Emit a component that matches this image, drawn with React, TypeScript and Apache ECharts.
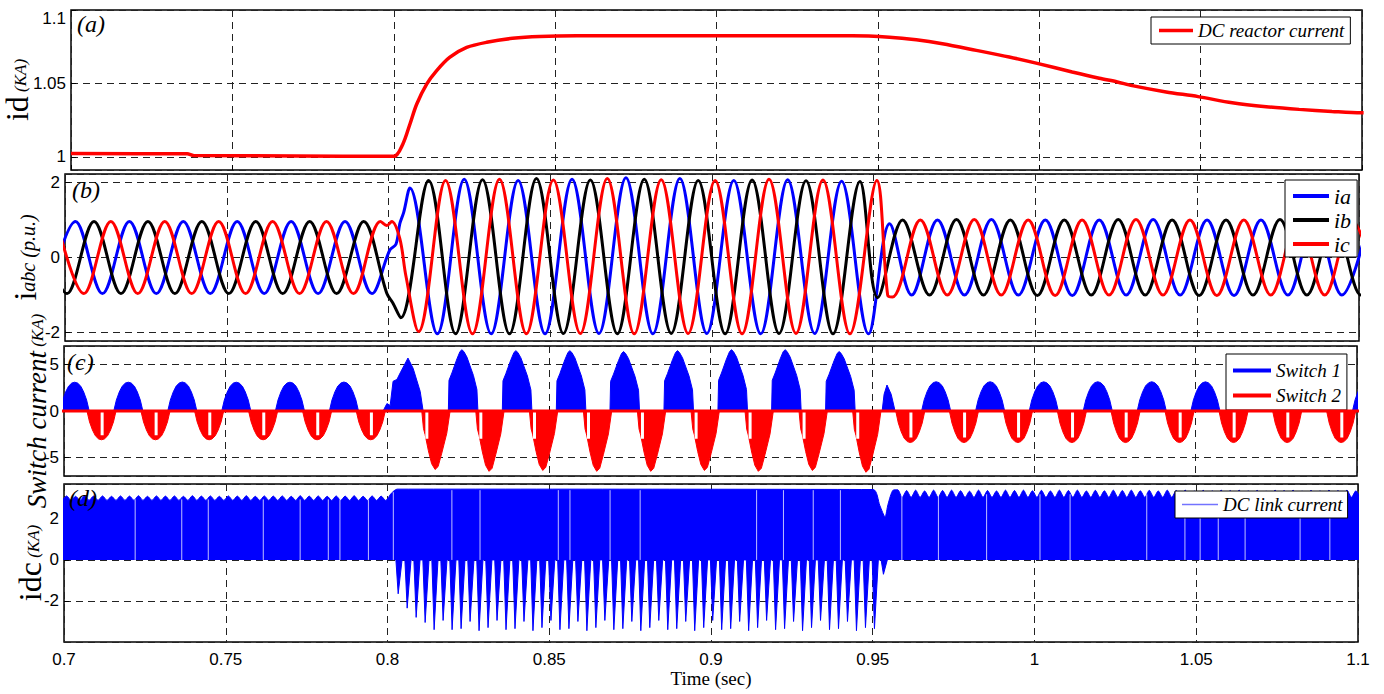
import React, { useEffect, useRef } from "react";
import * as echarts from "echarts";

// ---------------- shared axis values ----------------
const TIME_MIN = 0.7;
const TIME_MAX = 1.1;
const TIME_STEP = 0.05;
const TIME_LABEL = "Time (sec)";
const HALF_CYCLE = 1 / 120; // 60 Hz half period
const RIPPLE = 1 / 360; // 6-pulse ripple period

// ---------------- (a) DC reactor current ----------------
const ID_T = [0.7, 0.736, 0.738, 0.77, 0.8, 0.8028, 0.805, 0.8071, 0.8102, 0.8133, 0.8173, 0.8226, 0.8288, 0.8368, 0.8452, 0.8567, 0.9421, 0.9536, 0.9619, 0.97, 0.9805, 0.9907, 0.9997, 1.0102, 1.0186, 1.0242, 1.0288, 1.0393, 1.0492, 1.0598, 1.0703, 1.0805, 1.0907, 1.0997, 1.1005];
const ID_V = [1.0022, 1.002, 1.0009, 1.0006, 1.0003, 1.0086, 1.0222, 1.0358, 1.0495, 1.0587, 1.0677, 1.0745, 1.078, 1.0807, 1.082, 1.0825, 1.0825, 1.0815, 1.0797, 1.077, 1.0725, 1.068, 1.0635, 1.0578, 1.0535, 1.051, 1.0485, 1.0442, 1.041, 1.0368, 1.0341, 1.0323, 1.0309, 1.03, 1.03];

// ---------------- (b) phase currents, extrema per half cycle ----------------
const IA_PRE_START = 0.6949;
const IA_PRE = [-0.96, 0.96, -0.96, 0.96, -0.96, 0.96, -0.96, 0.96, -0.96, 0.96, -0.96, 0.96, -0.96];
const IA_FAULT_ON = [[0.8004, 0.2], [0.8023, 0.35], [0.8035, 0.9], [0.8047, 1.2], [0.8066, 1.85], [0.8151, -2.03]];
const IA_FAULT_START = 0.8234;
const IA_FAULT = [2.08, -2.03, 2.05, -2.03, 2.08, -2.02, 2.12, -2.03, 2.1, -2.02, 2.05, -2.03, 2.07, -2.02, 2.03, -2.03];
const IA_FAULT_OFF = [[0.9549, 0.9], [0.9617, -1.0]];
const IA_POST_START = 0.9697;
const IA_POST = [1.0, -1.0, 1.01, -1.0, 1.0, -1.01, 1.0, -1.0, 1.01, -1.0, 1.0, -1.01, 1.0, -1.0, 1.01, -1.0, 1.0];

const IB_PRE_START = 0.6923;
const IB_PRE = [0.96, -0.96, 0.96, -0.96, 0.96, -0.96, 0.96, -0.96, 0.96, -0.96, 0.96, -0.96, 0.96];
const IB_FAULT_ON = [[0.7995, -0.96], [0.8013, -1.2], [0.8038, -1.6]];
const IB_FAULT_START = 0.8124;
const IB_FAULT = [2.05, -2.03, 2.07, -2.03, 2.1, -2.02, 2.06, -2.03, 2.08, -2.02, 2.05, -2.03, 2.06, -2.02, 2.04, -2.03, 2.02];
const IB_FAULT_OFF = [[0.9512, -1.07]];
const IB_POST_START = 0.9589;
const IB_POST = [1.0, -1.0, 1.01, -1.0, 1.0, -1.01, 1.0, -1.0, 1.01, -1.0, 1.0, -1.01, 1.0, -1.0, 1.01, -1.0, 1.0, -1.0, 1.0];

const IC_PRE_START = 0.6975;
const IC_PRE = [0.96, -0.96, 0.96, -0.96, 0.96, -0.96, 0.96, -0.96, 0.96, -0.96, 0.96, -0.96, 0.96];
const IC_FAULT_ON = [[0.7995, 0.85], [0.801, 0.96], [0.8035, 0.5], [0.8054, -0.5]];
const IC_FAULT_START = 0.8093;
const IC_FAULT = [-1.97, 2.05, -2.03, 2.08, -2.03, 2.06, -2.02, 2.1, -2.03, 2.07, -2.02, 2.05, -2.03, 2.08, -2.02, 2.06, -2.03, 2.05];
const IC_FAULT_OFF = [[0.9543, -1.0], [0.9558, -1.05]];
const IC_POST_START = 0.9644;
const IC_POST = [1.0, -1.0, 1.01, -1.0, 1.0, -1.01, 1.0, -1.0, 1.01, -1.0, 1.0, -1.01, 1.0, -1.0, 1.01, -1.0, 1.0, -1.0];

// ---------------- (c) switch currents: lobe shapes and lobe list ----------------
const STEADY_LOBE_DT = [-0.0045, -0.0037, -0.0028, -0.0019, -0.0009, 0, 0.0009, 0.0019, 0.0028, 0.0037, 0.0045];
const STEADY_LOBE_K = [0, 0.38, 0.66, 0.86, 0.97, 1, 0.97, 0.86, 0.66, 0.38, 0];
const FAULT_S1_DT = [-0.0042, -0.004, -0.0031, -0.00155, -0.0006, 0, 0.0006, 0.00155, 0.00356, 0.00464, 0.00495];
const FAULT_S1_K = [0, 0.5, 0.62, 0.85, 0.97, 1, 0.97, 0.88, 0.58, 0.35, 0];
const FAULT_S2_DT = [-0.00412, -0.0036, -0.0031, -0.00207, -0.00108, 0, 0.00093, 0.00207, 0.00362, 0.00464];
const FAULT_S2_K = [0, 0.3, 0.4, 0.68, 0.9, 1, 0.95, 0.72, 0.38, 0];

const S1_PRE_CENTERS = [0.7033, 0.7199, 0.7366, 0.7533, 0.7699, 0.7866];
const S1_PRE_PEAKS = [3.1, 3.1, 3.12, 3.1, 3.1, 3.12];
const S1_FAULT_FIRST = [[0.7987, 0], [0.7999, 0.8], [0.8009, 0.6], [0.8018, 3.2], [0.803, 3.4], [0.804, 4.1], [0.8064, 5.7], [0.808, 4.6], [0.8102, 2.1], [0.8111, 0]];
const S1_FAULT_CENTERS = [0.8231, 0.8398, 0.8565, 0.8731, 0.8898, 0.9065, 0.9231, 0.9398];
const S1_FAULT_PEAKS = [6.6, 6.5, 6.5, 6.4, 6.5, 6.6, 6.6, 6.4];
const S1_POST_FIRST = [[0.9531, 0], [0.9537, 1.8], [0.9546, 2.8], [0.9559, 1.8], [0.9571, 0]];
const S1_POST_CENTERS = [0.9698, 0.9865, 1.0031, 1.0198, 1.0365, 1.0531, 1.0698, 1.0865, 1.1031];
const S1_POST_PEAKS = [3.15, 3.15, 3.14, 3.15, 3.15, 3.14, 3.15, 3.15, 3.14];

const S2_PRE_CENTERS = [0.7116, 0.7283, 0.7449, 0.7616, 0.7783, 0.7949];
const S2_PRE_TROUGHS = [-3.1, -3.1, -3.1, -3.1, -3.1, -3.1];
const S2_FAULT_CENTERS = [0.8148, 0.8315, 0.8481, 0.8648, 0.8815, 0.8981, 0.9148, 0.9315, 0.9481];
const S2_FAULT_TROUGHS = [-6.3, -6.5, -6.4, -6.5, -6.5, -6.4, -6.5, -6.4, -6.6];
const S2_POST_CENTERS = [0.9618, 0.9784, 0.9951, 1.0118, 1.0284, 1.0451, 1.0618, 1.0784, 1.0951];
const S2_POST_TROUGHS = [-3.4, -3.4, -3.4, -3.4, -3.4, -3.4, -3.4, -3.4, -3.4];
const NOTCH_STEADY_DT = 0.0002;
const NOTCH_FAULT_DT = -0.00255;
const S2_PRE_NOTCH = -2.6;
const S2_FAULT_NOTCH = -3.0;
const S2_POST_NOTCH = -2.85;

// ---------------- (d) DC link current ----------------
const DC_PRE_START = 0.7008;
const DC_PRE_PEAKS = [3.12, 3.1, 3.13, 3.11, 3.12, 3.1, 3.12, 3.11, 3.13, 3.1, 3.12, 3.11, 3.12, 3.1, 3.13, 3.11, 3.12, 3.1, 3.12, 3.11, 3.13, 3.1, 3.12, 3.11, 3.12, 3.1, 3.13, 3.11, 3.12, 3.1, 3.12, 3.11, 3.13, 3.1, 3.12, 3.11];
const DC_PRE_VALLEY = 2.9;
const DC_FAULT_TOP = [[0.8012, 3.25], [0.803, 3.45], [0.9501, 3.43], [0.9522, 2.65], [0.9538, 2.1], [0.9547, 2.7], [0.9563, 3.4]];
const DC_POST_START = 0.9577;
const DC_POST_PEAKS = [
  3.42, 3.38, 3.4, 3.36, 3.4, 3.38, 3.4, 3.37, 3.35, 3.4, 3.38, 3.36, 3.4, 3.38, 3.4, 3.37, 3.39, 3.36,
  3.4, 3.38, 3.4, 3.36, 3.39, 3.37, 3.4, 3.38, 3.4, 3.37, 3.39, 3.36, 3.4, 3.38, 3.4, 3.36, 3.39, 3.37,
  3.4, 3.38, 3.4, 3.37, 3.39, 3.36, 3.4, 3.38, 3.4, 3.36, 3.39, 3.37, 3.4, 3.38, 3.4, 3.37, 3.39,
];
const DC_POST_VALLEY = 3.05;
const DC_SPIKE_START = 0.8033;
const DC_SPIKE_DEPTH = [
  -1.65, -2.35, -2.8, -3.05, -3.4,
  -2.95, -3.4, -3.35, -3.0, -3.45, -3.3, -2.95, -3.4, -3.35, -3.0, -3.45, -3.3,
  -2.95, -3.4, -3.35, -3.0, -3.45, -3.3, -2.95, -3.4, -3.35, -3.0, -3.45, -3.3,
  -2.95, -3.4, -3.35, -3.0, -3.45, -3.3, -2.95, -3.4, -3.35, -3.0, -3.45, -3.3,
  -2.95, -3.4, -3.35, -3.0, -3.45, -3.3, -2.95, -3.4, -3.35, -3.0, -3.45, -3.3,
  -3.35, -0.7,
];
const SPIKE_DT = [-0.0007, 0, 0.0012];
const SPIKE_K = [0, 1, 0];
const DC_GAP_T = [0.722, 0.7364, 0.7446, 0.7616, 0.773, 0.7817, 0.7853, 0.7941, 0.8018, 0.8199, 0.8286, 0.8528, 0.8564, 0.8688, 0.8781, 0.9141, 0.9224, 0.9316, 0.94, 0.959, 0.9703, 0.9852, 1.0017, 1.011, 1.0347, 1.0465, 1.0512, 1.0568, 1.0651, 1.0821, 1.0913];
const DC_GAP_H = [2.95, 2.95, 2.95, 2.95, 2.95, 2.95, 2.95, 2.95, 3.3, 3.4, 3.4, 3.4, 3.4, 3.4, 3.4, 3.4, 3.4, 3.4, 3.4, 3.2, 3.2, 3.2, 3.2, 3.2, 3.2, 3.2, 3.2, 3.2, 3.2, 3.2, 3.2];

// ---------------- helpers (combine read values into [t, v] pairs) ----------------
type P = [number, number | null];
const halfCycles = (start: number, values: number[]): P[] => values.map((v, i) => [start + i * HALF_CYCLE, v]);
const lobes = (centers: number[], amps: number[], dt: number[], k: number[]): P[] =>
  centers.flatMap((c, i) => dt.map((d, j) => [c + d, amps[i] * k[j]] as P));
const pairs = (t: number[], v: number[]): P[] => t.map((x, i) => [x, v[i]]);
const scallops = (start: number, peaks: number[], valley: number, lead: boolean, trail: boolean): P[] => {
  const out: P[] = [];
  peaks.forEach((p, i) => {
    const t = start + i * RIPPLE;
    if (i > 0 || lead) out.push([t - RIPPLE / 2, valley]);
    out.push([t, p]);
  });
  if (trail) out.push([start + (peaks.length - 0.5) * RIPPLE, valley]);
  return out;
};
// vertical strokes from 0 to a value, separated by gaps (null)
const strokes = (marks: P[]): P[] => marks.flatMap(([t, v]) => [[t, 0], [t, v], [t, null]] as P[]);

const IA_DATA: P[] = [...halfCycles(IA_PRE_START, IA_PRE), ...(IA_FAULT_ON as P[]), ...halfCycles(IA_FAULT_START, IA_FAULT), ...(IA_FAULT_OFF as P[]), ...halfCycles(IA_POST_START, IA_POST)];
const IB_DATA: P[] = [...halfCycles(IB_PRE_START, IB_PRE), ...(IB_FAULT_ON as P[]), ...halfCycles(IB_FAULT_START, IB_FAULT), ...(IB_FAULT_OFF as P[]), ...halfCycles(IB_POST_START, IB_POST)];
const IC_DATA: P[] = [...halfCycles(IC_PRE_START, IC_PRE), ...(IC_FAULT_ON as P[]), ...halfCycles(IC_FAULT_START, IC_FAULT), ...(IC_FAULT_OFF as P[]), ...halfCycles(IC_POST_START, IC_POST)];

const S1_DATA: P[] = [
  ...lobes(S1_PRE_CENTERS, S1_PRE_PEAKS, STEADY_LOBE_DT, STEADY_LOBE_K),
  ...(S1_FAULT_FIRST as P[]),
  ...lobes(S1_FAULT_CENTERS, S1_FAULT_PEAKS, FAULT_S1_DT, FAULT_S1_K),
  ...(S1_POST_FIRST as P[]),
  ...lobes(S1_POST_CENTERS, S1_POST_PEAKS, STEADY_LOBE_DT, STEADY_LOBE_K),
];
const S2_DATA: P[] = [
  ...lobes(S2_PRE_CENTERS, S2_PRE_TROUGHS, STEADY_LOBE_DT, STEADY_LOBE_K),
  ...lobes(S2_FAULT_CENTERS, S2_FAULT_TROUGHS, FAULT_S2_DT, FAULT_S2_K),
  ...lobes(S2_POST_CENTERS, S2_POST_TROUGHS, STEADY_LOBE_DT, STEADY_LOBE_K),
];
const S2_NOTCHES: P[] = strokes([
  ...S2_PRE_CENTERS.map((c) => [c + NOTCH_STEADY_DT, S2_PRE_NOTCH] as P),
  ...S2_FAULT_CENTERS.map((c) => [c + NOTCH_FAULT_DT, S2_FAULT_NOTCH] as P),
  ...S2_POST_CENTERS.map((c) => [c + NOTCH_STEADY_DT, S2_POST_NOTCH] as P),
]);
const DC_TOP: P[] = [
  ...scallops(DC_PRE_START, DC_PRE_PEAKS, DC_PRE_VALLEY, true, true),
  ...(DC_FAULT_TOP as P[]),
  ...scallops(DC_POST_START, DC_POST_PEAKS, DC_POST_VALLEY, false, false),
];
const DC_SPIKES: P[] = DC_SPIKE_DEPTH.flatMap((d, i) => SPIKE_DT.map((dt, j) => [DC_SPIKE_START + i * RIPPLE + dt, d * SPIKE_K[j]] as P));
const DC_GAPS: P[] = strokes(pairs(DC_GAP_T, DC_GAP_H));

// ---------------- styling ----------------
const RED = "#ff0000";
const BLUE = "#0000ff";
const BLACK = "#000000";
const SERIF = "Liberation Serif";
const SANS = "Liberation Sans";

const GRIDS = [
  { left: 71, top: 10, width: 1291, height: 160 },
  { left: 65, top: 174, width: 1294, height: 167 },
  { left: 64, top: 346, width: 1293, height: 130 },
  { left: 64, top: 484, width: 1294, height: 158 },
];

const fmt = (v: number) => String(Math.round(v * 1000) / 1000);
const dash = { color: "#222", type: [7, 5] as number[], width: 1 };

const bigTok = { fontFamily: SERIF, fontSize: 32, color: BLACK, verticalAlign: "bottom", lineHeight: 30 };
const bigItTok = { fontFamily: SERIF, fontStyle: "italic", fontSize: 27, color: BLACK, verticalAlign: "bottom", lineHeight: 30 };
const smallTok = { fontFamily: SERIF, fontStyle: "italic", fontSize: 17, color: BLACK, verticalAlign: "bottom", lineHeight: 20, padding: [0, 0, 4, 0] };
const midTok = { fontFamily: SERIF, fontStyle: "italic", fontSize: 20, color: BLACK, verticalAlign: "bottom", lineHeight: 22, padding: [0, 0, 3, 0] };
const richName = { big: bigTok, bigit: bigItTok, small: smallTok, mid: midTok };

function yAxis(i: number, min: number, max: number, extra: any, name: string, gap: number) {
  return {
    type: "value",
    gridIndex: i,
    min,
    max,
    ...extra,
    axisLine: { show: false },
    axisTick: { show: true, inside: true, length: 5, lineStyle: { color: BLACK } },
    axisLabel: {
      fontFamily: SANS,
      fontSize: 17,
      color: BLACK,
      margin: 5,
      showMinLabel: false,
      showMaxLabel: i === 0,
      verticalAlignMaxLabel: "top",
      formatter: fmt,
    },
    splitLine: { show: true, lineStyle: dash },
    name,
    nameLocation: "middle",
    nameRotate: 90,
    nameGap: gap,
    nameMoveOverlap: false,
    nameTextStyle: { rich: richName },
  };
}

function xAxis(i: number) {
  const last = i === 3;
  return {
    type: "value",
    gridIndex: i,
    min: TIME_MIN,
    max: TIME_MAX,
    interval: TIME_STEP,
    axisLine: { show: false },
    axisTick: { show: true, inside: true, length: 5, lineStyle: { color: BLACK } },
    axisLabel: { show: last, fontFamily: SANS, fontSize: 17, color: BLACK, margin: 9, formatter: fmt },
    splitLine: { show: true, lineStyle: dash },
    name: last ? TIME_LABEL : "",
    nameLocation: "middle",
    nameGap: 27,
    nameTextStyle: { fontFamily: SERIF, fontSize: 19, color: BLACK },
  };
}

const legendText = (size: number) => ({ fontFamily: SERIF, fontStyle: "italic", fontSize: size, color: BLACK });
const legendBase = {
  orient: "vertical",
  icon: "rect",
  borderColor: BLACK,
  borderWidth: 1,
  backgroundColor: "#fff",
  selectedMode: false,
  borderRadius: 0,
};

const panelTitle = (text: string, left: number, top: number) => ({
  text,
  left,
  top,
  padding: 0,
  textStyle: { fontFamily: SERIF, fontStyle: "italic", fontWeight: "normal", fontSize: 24, color: BLACK },
});

const lineSeries = (name: string, gi: number, data: P[], color: string, width: number, smooth: number, z = 2) => ({
  type: "line",
  name,
  xAxisIndex: gi,
  yAxisIndex: gi,
  data,
  smooth,
  symbol: "none",
  showSymbol: false,
  connectNulls: false,
  lineStyle: { color, width },
  itemStyle: { color },
  silent: true,
  z,
});

const areaSeries = (name: string, gi: number, data: P[], color: string, smooth: number) => ({
  ...lineSeries(name, gi, data, color, 1, smooth),
  areaStyle: { color, opacity: 1 },
});

function buildOption() {
  return {
    animation: false,
    backgroundColor: "#fff",
    grid: GRIDS.map((g) => ({
      ...g,
      show: true,
      containLabel: false,
      outerBoundsMode: "none",
      borderColor: BLACK,
      borderWidth: 1.5,
      backgroundColor: "transparent",
    })),
    xAxis: [0, 1, 2, 3].map(xAxis),
    yAxis: [
      yAxis(0, 0.991, 1.1, { splitNumber: 2 }, "{big|id}{small| (KA)}", 38),
      yAxis(1, -2.22, 2.22, { splitNumber: 2 }, "{big|i}{mid|abc (p.u.)}", 24),
      yAxis(2, -7, 7, { splitNumber: 3 }, "{bigit|Switch current}{small| (KA)}", 14),
      yAxis(3, -4, 3.7, { interval: 2 }, "{big|idc}{small| (KA)}", 18),
    ],
    title: [panelTitle("(a)", 77, 12), panelTitle("(b)", 72, 178), panelTitle("(c)", 67, 350), panelTitle("(d)", 69, 486)],
    legend: [
      { ...legendBase, data: ["DC reactor current"], left: 1151, top: 17, padding: [4, 6, 4, 8], itemWidth: 34, itemHeight: 3.5, textStyle: legendText(19) },
      { ...legendBase, data: ["ia", "ib", "ic"], left: 1285, top: 180, padding: [5, 6, 2, 8], itemGap: 2, itemWidth: 36, itemHeight: 4, textStyle: legendText(22) },
      { ...legendBase, data: ["Switch 1", "Switch 2"], left: 1226, top: 354, padding: [7, 6, 5, 7], itemGap: 6, itemWidth: 38, itemHeight: 4, textStyle: legendText(19) },
      { ...legendBase, data: [{ name: "DC link current", itemStyle: { color: "#7373ff" } }], left: 1175, top: 491, padding: [4, 5, 4, 7], itemWidth: 36, itemHeight: 1.5, textStyle: legendText(19) },
    ],
    series: [
      lineSeries("DC reactor current", 0, pairs(ID_T, ID_V), RED, 3.5, 0.3),
      lineSeries("ia", 1, IA_DATA, BLUE, 3, 0.35),
      lineSeries("ib", 1, IB_DATA, BLACK, 3, 0.35),
      lineSeries("ic", 1, IC_DATA, RED, 3, 0.35),
      areaSeries("Switch 1", 2, S1_DATA, BLUE, 0),
      areaSeries("Switch 2", 2, S2_DATA, RED, 0),
      lineSeries("Switch 2 notch", 2, S2_NOTCHES, "#ffffff", 3, 0, 3),
      lineSeries("Switch 2", 2, [[TIME_MIN - 0.01, 0], [TIME_MAX + 0.01, 0]], RED, 3, 0, 4),
      areaSeries("DC link current", 3, DC_TOP, BLUE, 0.25),
      areaSeries("DC link current", 3, DC_SPIKES, BLUE, 0),
      lineSeries("DC link gaps", 3, DC_GAPS, "rgba(255,255,255,0.75)", 1, 0, 3),
    ],
  };
}

export default function App() {
  const ref = useRef<HTMLDivElement>(null);
  useEffect(() => {
    if (!ref.current) return;
    const chart = echarts.init(ref.current, undefined, { renderer: "svg" });
    chart.setOption(buildOption() as any);
    return () => chart.dispose();
  }, []);
  return <div ref={ref} style={{ position: "fixed", left: 0, top: 0, width: 1384, height: 694, background: "#fff" }} />;
}
